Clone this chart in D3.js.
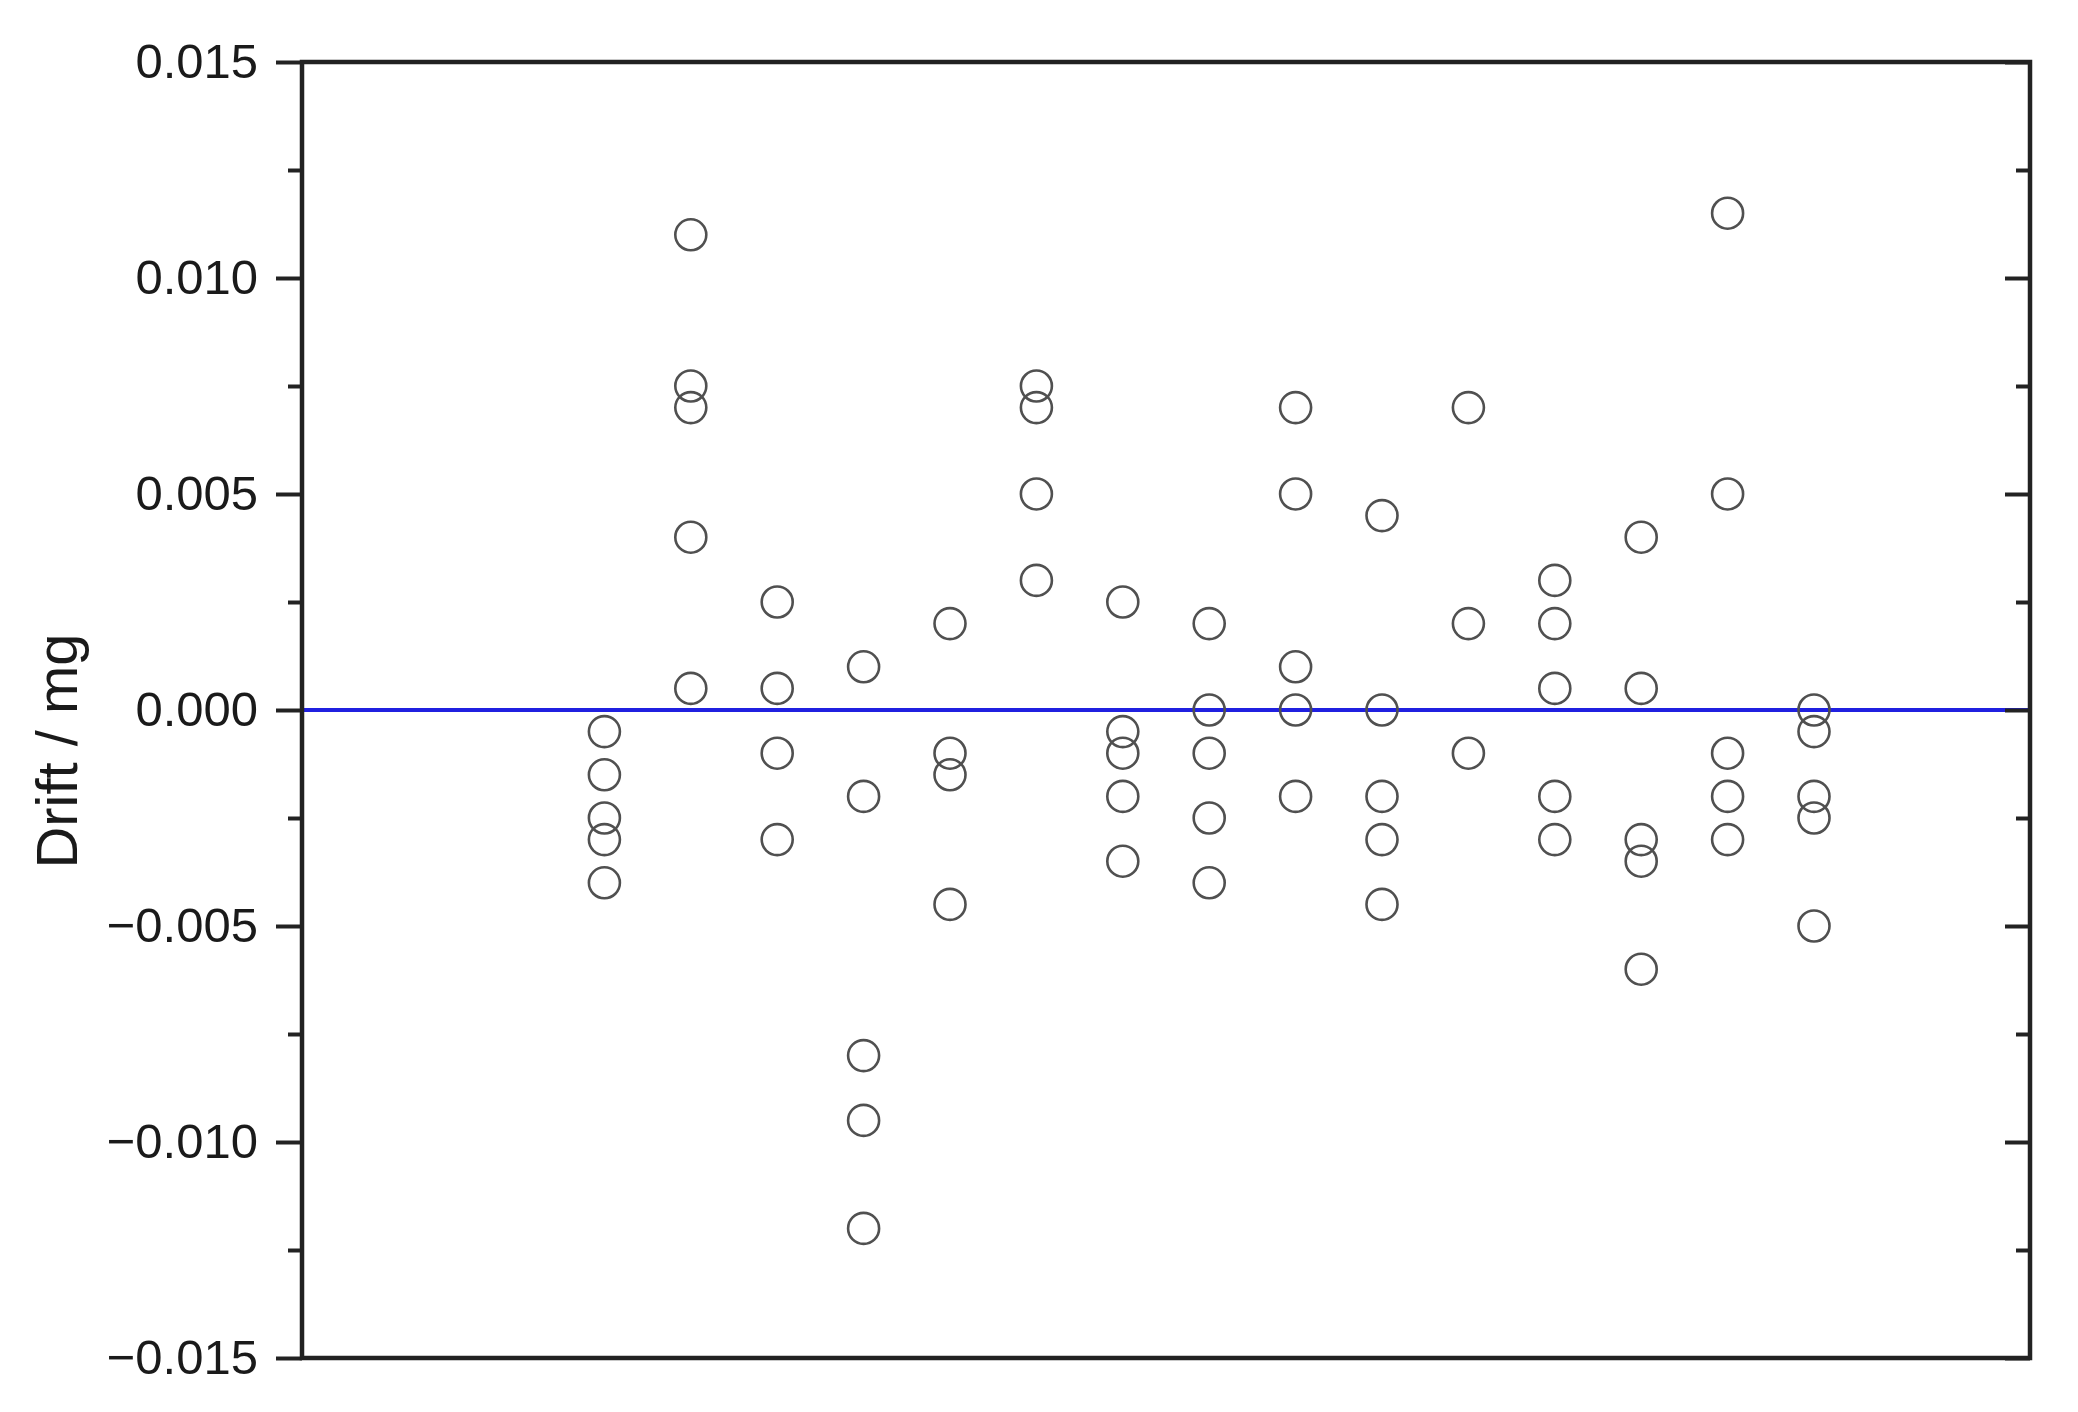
<!DOCTYPE html>
<html>
<head>
<meta charset="utf-8">
<script src="https://cdn.jsdelivr.net/npm/d3@7"></script>
<style>
  body { margin: 0; background: #fff; }
  svg { display: block; }
</style>
</head>
<body>
<svg width="2078" height="1412"></svg>
<script>
// drift readings per weighing series (mg), one array per x position
const groups = [1, 2, 3, 4, 5, 6, 7, 8, 9, 10, 11, 12, 13, 14, 15];
const drift = [
  [-0.0005, -0.0015, -0.0025, -0.003, -0.004],
  [0.011, 0.0075, 0.007, 0.004, 0.0005],
  [0.0025, 0.0005, -0.001, -0.003],
  [0.001, -0.002, -0.008, -0.0095, -0.012],
  [0.002, -0.001, -0.0015, -0.0045],
  [0.0075, 0.007, 0.005, 0.003],
  [0.0025, -0.0005, -0.001, -0.002, -0.0035],
  [0.002, 0.000, -0.001, -0.0025, -0.004],
  [0.007, 0.005, 0.001, 0.000, -0.002],
  [0.0045, 0.000, -0.002, -0.003, -0.0045],
  [0.007, 0.002, -0.001],
  [0.003, 0.002, 0.0005, -0.002, -0.003],
  [0.004, 0.0005, -0.003, -0.0035, -0.006],
  [0.0115, 0.005, -0.001, -0.002, -0.003],
  [0.000, -0.0005, -0.002, -0.0025, -0.005]
];
const yTicks = [-0.015, -0.010, -0.005, 0.000, 0.005, 0.010, 0.015];
const yMinor = [-0.0125, -0.0075, -0.0025, 0.0025, 0.0075, 0.0125];
const yLabel = "Drift / mg";

const svg = d3.select("svg");
const plotL = 302, plotR = 2030, plotT = 62, plotB = 1358;

const x = d3.scaleLinear().domain([-2.5, 17.5]).range([plotL, plotR]);
const y = d3.scaleLinear().domain([-0.015, 0.015]).range([plotB, plotT]);

const fmt = v => {
  const s = d3.format(".3f")(Math.abs(v));
  return v < -1e-9 ? "\u2212" + s : s;
};

// zero reference line
svg.append("line")
  .attr("x1", plotL).attr("x2", plotR)
  .attr("y1", y(0)).attr("y2", y(0))
  .style("stroke", "#2020e0")
  .style("stroke-width", 4);

// points
const pts = [];
groups.forEach(function(g, i) {
  drift[i].forEach(function(v) { pts.push({g: g, v: v}); });
});
svg.append("g")
  .selectAll("circle")
  .data(pts)
  .enter().append("circle")
    .attr("cx", d => x(d.g))
    .attr("cy", d => y(d.v))
    .attr("r", 15.5)
    .style("fill", "none")
    .style("stroke", "#505050")
    .style("stroke-width", 2.6);

// left axis, ticks outside
const yAxisL = svg.append("g")
  .attr("transform", "translate(" + plotL + ",0)")
  .call(d3.axisLeft(y).tickValues(yTicks).tickSize(26).tickPadding(18).tickFormat(fmt));
yAxisL.select(".domain").remove();
yAxisL.selectAll(".tick line").style("stroke", "#222").style("stroke-width", 4);
yAxisL.selectAll(".tick text")
  .style("font-family", "Liberation Sans, Arial, sans-serif")
  .style("font-size", "49px")
  .style("fill", "#1a1a1a");

const yMinorL = svg.append("g")
  .attr("transform", "translate(" + plotL + ",0)")
  .call(d3.axisLeft(y).tickValues(yMinor).tickSize(14).tickFormat(""));
yMinorL.select(".domain").remove();
yMinorL.selectAll(".tick line").style("stroke", "#222").style("stroke-width", 4);

// right axis, ticks inside
const yAxisR = svg.append("g")
  .attr("transform", "translate(" + plotR + ",0)")
  .call(d3.axisLeft(y).tickValues(yTicks).tickSize(0).tickFormat(""));
yAxisR.select(".domain").remove();
yAxisR.selectAll(".tick line").attr("x2", -25).style("stroke", "#222").style("stroke-width", 4);

const yMinorR = svg.append("g")
  .attr("transform", "translate(" + plotR + ",0)")
  .call(d3.axisLeft(y).tickValues(yMinor).tickSize(0).tickFormat(""));
yMinorR.select(".domain").remove();
yMinorR.selectAll(".tick line").attr("x2", -14).style("stroke", "#222").style("stroke-width", 4);

// frame
svg.append("rect")
  .attr("x", plotL).attr("y", plotT)
  .attr("width", plotR - plotL).attr("height", plotB - plotT)
  .style("fill", "none")
  .style("stroke", "#222")
  .style("stroke-width", 4.5);

// axis title
svg.append("text")
  .attr("transform", "translate(77,751) rotate(-90)")
  .attr("text-anchor", "middle")
  .style("font-family", "Liberation Sans, Arial, sans-serif")
  .style("font-size", "58px")
  .style("fill", "#1a1a1a")
  .text(yLabel);
</script>
</body>
</html>
